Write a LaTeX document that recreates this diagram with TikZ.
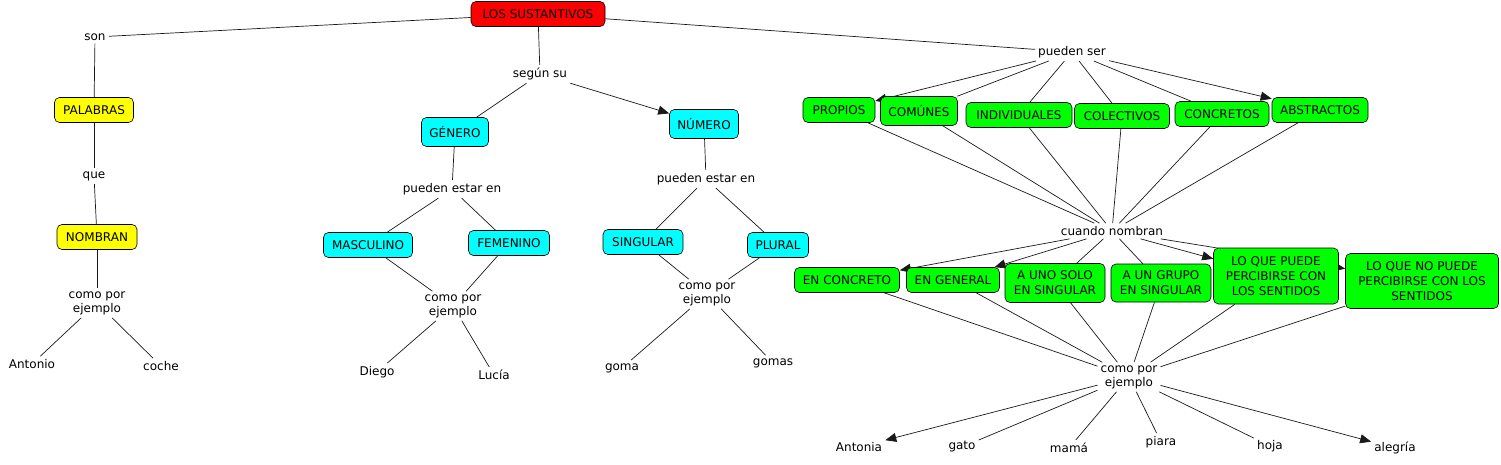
\documentclass[tikz,border=0pt]{standalone}
\usepackage{fontspec}
\setmainfont{DejaVu Sans}
\usetikzlibrary{arrows.meta}
\pgfdeclarelayer{bg}
\pgfsetlayers{bg,main}
\definecolor{cmred}{HTML}{FF0000}
\definecolor{cmyellow}{HTML}{FFFF00}
\definecolor{cmcyan}{HTML}{00FFFF}
\definecolor{cmgreen}{HTML}{00FF00}
\tikzset{
  base/.style={font=\fontsize{12}{14}\selectfont, align=center, text=black},
  lbl/.style={base, inner sep=3pt},
  box/.style={base, draw=black, rounded corners=5pt, line width=0.6pt, inner xsep=5pt, inner ysep=3pt},
  sz/.style 2 args={minimum width=#1pt, minimum height=#2pt},
  rbox/.style={box, fill=cmred},
  ybox/.style={box, fill=cmyellow},
  cbox/.style={box, fill=cmcyan},
  gbox/.style={box, fill=cmgreen, font=\fontsize{12}{15}\selectfont},
  conn/.style={draw=black!90, line width=0.7pt},
  arr/.style={conn, -{Triangle[length=11pt,width=9pt]}},
}
\begin{document}
\begin{tikzpicture}[x=1pt,y=-1pt]
\useasboundingbox (0,0) rectangle (1501,464);
% left branch
\node[rbox, sz={134}{25}] (los) at (538,14) {LOS SUSTANTIVOS};
\node[lbl] (son) at (95,37) {son};
\node[ybox, sz={79}{25}] (pal) at (94,110) {PALABRAS};
\node[lbl] (que) at (94,176) {que};
\node[ybox, sz={80}{25}] (nom) at (97,237) {NOMBRAN};
\node[lbl] (cpe1) at (97,303) {como por\\ejemplo};
\node[lbl] (antonio) at (32,364) {Antonio};
\node[lbl] (coche) at (161,366) {coche};
% middle branch
\node[lbl] (segun) at (540,74) {según su};
\node[cbox, sz={67}{29}] (gen) at (455,132) {GÉNERO};
\node[cbox, sz={69}{29}] (num) at (704,124) {NÚMERO};
\node[lbl] (pee1) at (452,189) {pueden estar en};
\node[lbl] (pee2) at (706,179) {pueden estar en};
\node[cbox, sz={89}{25}] (masc) at (368,245) {MASCULINO};
\node[cbox, sz={81}{25}] (fem) at (509,243) {FEMENINO};
\node[cbox, sz={80}{25}] (sing) at (643,242) {SINGULAR};
\node[cbox, sz={61}{25}] (plur) at (778,245) {PLURAL};
\node[lbl] (cpe2) at (453,306) {como por\\ejemplo};
\node[lbl] (diego) at (377,372) {Diego};
\node[lbl] (lucia) at (494,375) {Lucía};
\node[lbl] (cpe3) at (707,294) {como por\\ejemplo};
\node[lbl] (goma) at (622,368) {goma};
\node[lbl] (gomas) at (773,363) {gomas};
% right branch
\node[lbl] (pser) at (1072,52) {pueden ser};
\node[gbox, sz={72}{25}] (prop) at (839,110) {PROPIOS};
\node[gbox, sz={77}{29}] (com) at (919,111) {COMÚNES};
\node[gbox, sz={106}{25}] (ind) at (1019,115) {INDIVIDUALES};
\node[gbox, sz={95}{25}] (col) at (1122,116) {COLECTIVOS};
\node[gbox, sz={94}{25}] (conc) at (1222,114) {CONCRETOS};
\node[gbox, sz={96}{25}] (abs) at (1320,110) {ABSTRACTOS};
\node[lbl] (cn) at (1112,231) {cuando nombran};
\node[gbox, sz={105}{25}] (enc) at (847,280) {EN CONCRETO};
\node[gbox, sz={93}{25}] (eng) at (953,280) {EN GENERAL};
\node[gbox, sz={100}{39}] (uno) at (1055,283) {A UNO SOLO\\EN SINGULAR};
\node[gbox, sz={100}{38}] (grupo) at (1161,283) {A UN GRUPO\\EN SINGULAR};
\node[gbox, sz={125}{56}] (lqp) at (1276,276) {LO QUE PUEDE\\PERCIBIRSE CON\\LOS SENTIDOS};
\node[gbox, sz={153}{55}] (lqnp) at (1422,281) {LO QUE NO PUEDE\\PERCIBIRSE CON LOS\\SENTIDOS};
\node[lbl] (cpe4) at (1129,377) {como por\\ejemplo};
\node[lbl] (antonia) at (859,447) {Antonia};
\node[lbl] (gato) at (962,447) {gato};
\node[lbl] (mama) at (1069,448) {mamá};
\node[lbl] (piara) at (1161,442) {piara};
\node[lbl] (hoja) at (1270,446) {hoja};
\node[lbl] (alegria) at (1395,448) {alegría};

\begin{pgfonlayer}{bg}
% left
\draw[conn] (los) -- (son);
\draw[conn] (son) -- (pal);
\draw[conn] (pal) -- (que);
\draw[conn] (que) -- (nom);
\draw[conn] (nom) -- (cpe1);
\draw[conn] (cpe1) -- (antonio);
\draw[conn] (cpe1) -- (coche);
% middle
\draw[conn] (los) -- (segun);
\draw[conn] (segun) -- (gen);
\draw[arr] (segun) -- (num);
\draw[conn] (gen) -- (pee1);
\draw[conn] (pee1) -- (masc);
\draw[conn] (pee1) -- (fem);
\draw[conn] (masc) -- (cpe2);
\draw[conn] (fem) -- (cpe2);
\draw[conn] (cpe2) -- (diego);
\draw[conn] (cpe2) -- (lucia);
\draw[conn] (num) -- (pee2);
\draw[conn] (pee2) -- (sing);
\draw[conn] (pee2) -- (plur);
\draw[conn] (sing) -- (cpe3);
\draw[conn] (plur) -- (cpe3);
\draw[conn] (cpe3) -- (goma);
\draw[conn] (cpe3) -- (gomas);
% right
\draw[conn] (los) -- (pser);
\draw[arr] (pser) -- (prop);
\draw[conn] (pser) -- (com);
\draw[conn] (pser) -- (ind);
\draw[conn] (pser) -- (col);
\draw[conn] (pser) -- (conc);
\draw[arr] (pser) -- (abs);
\foreach \n in {prop,com,ind,col,conc,abs} \draw[conn] (\n) -- (cn);
\draw[arr] (cn) -- (enc);
\draw[arr] (cn) -- (eng);
\draw[conn] (cn) -- (uno);
\draw[conn] (cn) -- (grupo);
\draw[arr] (cn) -- (lqp);
\draw[arr] (cn) -- (lqnp);
\foreach \n in {enc,eng,uno,grupo,lqp,lqnp} \draw[conn] (\n) -- (cpe4);
\draw[arr] (cpe4) -- (antonia);
\draw[conn] (cpe4) -- (gato);
\draw[conn] (cpe4) -- (mama);
\draw[conn] (cpe4) -- (piara);
\draw[conn] (cpe4) -- (hoja);
\draw[arr] (cpe4) -- (alegria);
\end{pgfonlayer}
\end{tikzpicture}
\end{document}
